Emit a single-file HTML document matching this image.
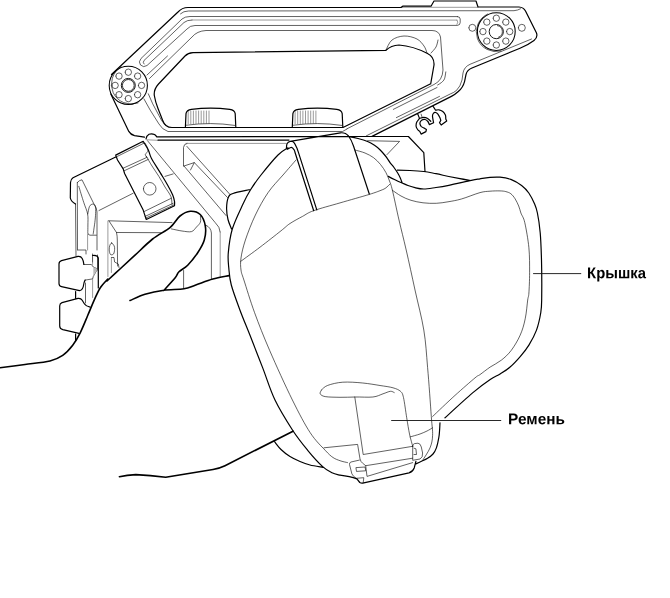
<!DOCTYPE html>
<html lang="ru"><head><meta charset="utf-8"><title>Крышка / Ремень</title>
<style>
html,body{margin:0;padding:0;background:#fff;overflow:hidden;}
svg{display:block;will-change:transform;}
.k{fill:none;stroke:#000;stroke-width:1.2;stroke-linecap:round;stroke-linejoin:round;}
.n{fill:none;stroke:#000;stroke-width:0.62;stroke-linecap:round;stroke-linejoin:round;}
.g{fill:none;stroke:#555;stroke-width:0.6;stroke-linecap:round;stroke-linejoin:round;}
.h{fill:none;stroke:#000;stroke-width:1.6;stroke-linecap:round;stroke-linejoin:round;}
.t{font-family:"Liberation Sans",sans-serif;font-weight:bold;font-size:15px;fill:#000;}
</style></head>
<body>
<svg width="670" height="598" viewBox="0 0 670 598">
<rect width="670" height="598" fill="#fff"/>
<g class="n">
<path d="M180.5,13.8 Q183.5,11 188.5,11 L514,10.7 Q518,10.3 520.5,8.8 M457.5,16.6 L190,16.5 Q185,16.5 182,19 L141,58.5 Q138,62 140.5,65 Q143.5,68 147,65.5 L187,29 Q190,25.5 195,25.5 L457.5,25.4 Q460.2,25 460.2,22.5 L460.2,19 Q460.2,16.8 457.5,16.6 M192,20 Q187,20 184,22.5 L144,60.5 Q142.5,62.5 144,64 M147,75 L167.5,56 M149.5,78.5 L192,37 Q197,31 206,30.5 L432,30.5 Q439,30.5 440.5,37 L443,70 Q442.5,80.5 434,84.5 L347,128.8 M143.9,98.8 L150.2,110.1 L158.9,123.9 Q162,129.5 168,131.5 L342.5,131.5 L347,129 M148.3,93.8 L152.7,103.8 L161.4,120.1 Q163,123 165.2,124.5 M386.0,50.0C387.0,48.3 389.0,42.3 392.0,40.0C395.0,37.7 399.8,36.2 404.0,36.0C408.2,35.8 413.7,37.3 417.0,39.0C420.3,40.7 422.3,43.7 424.0,46.0C425.7,48.3 426.5,51.8 427.0,53.0 M438.0,40.0C437.7,41.2 437.2,44.8 436.0,47.0C434.8,49.2 431.8,52.0 431.0,53.0 M445.8,71.9C445.6,73.1 445.2,77.0 444.5,78.8C443.8,80.6 442.6,81.5 441.5,82.5C440.4,83.5 438.2,84.6 437.6,85.0 M393.3,109.4 L437,87.5 M396.4,117.6 L439.5,96.4 M138.0,103.0 A19.950000000000003,19.950000000000003 0 0 1 121.2,67.0 M138.3,85.4 a3.2,3.2 0 1 0 6.4,0 a3.2,3.2 0 1 0 -6.4,0 M134.4,94.7 a3.2,3.2 0 1 0 6.4,0 a3.2,3.2 0 1 0 -6.4,0 M125.1,98.6 a3.2,3.2 0 1 0 6.4,0 a3.2,3.2 0 1 0 -6.4,0 M115.8,94.7 a3.2,3.2 0 1 0 6.4,0 a3.2,3.2 0 1 0 -6.4,0 M111.9,85.4 a3.2,3.2 0 1 0 6.4,0 a3.2,3.2 0 1 0 -6.4,0 M115.8,76.1 a3.2,3.2 0 1 0 6.4,0 a3.2,3.2 0 1 0 -6.4,0 M125.1,72.2 a3.2,3.2 0 1 0 6.4,0 a3.2,3.2 0 1 0 -6.4,0 M134.4,76.1 a3.2,3.2 0 1 0 6.4,0 a3.2,3.2 0 1 0 -6.4,0 M501.1,51.0 A19.75,19.75 0 0 1 487.7,14.0 M497.4,25.6 A6.1,6.1 0 0 1 498.4,37.3 M506.5,31.6 a3.2,3.2 0 1 0 6.4,0 a3.2,3.2 0 1 0 -6.4,0 M502.6,41.1 a3.2,3.2 0 1 0 6.4,0 a3.2,3.2 0 1 0 -6.4,0 M493.1,45.0 a3.2,3.2 0 1 0 6.4,0 a3.2,3.2 0 1 0 -6.4,0 M483.6,41.1 a3.2,3.2 0 1 0 6.4,0 a3.2,3.2 0 1 0 -6.4,0 M479.7,31.6 a3.2,3.2 0 1 0 6.4,0 a3.2,3.2 0 1 0 -6.4,0 M483.6,22.1 a3.2,3.2 0 1 0 6.4,0 a3.2,3.2 0 1 0 -6.4,0 M493.1,18.2 a3.2,3.2 0 1 0 6.4,0 a3.2,3.2 0 1 0 -6.4,0 M502.6,22.1 a3.2,3.2 0 1 0 6.4,0 a3.2,3.2 0 1 0 -6.4,0 M468.8,27.8 a3.5,3.5 0 1 0 7,0 a3.5,3.5 0 1 0 -7,0 M518.3,27.8 a3.5,3.5 0 1 0 7,0 a3.5,3.5 0 1 0 -7,0 M531.5,39 L470,64.3 Q464,67 463,73 L462,80 Q460.5,86.5 456.4,90.5 Q453.5,92.8 450.2,94 L366.4,135.8 M186.4,125.2 Q210.60000000000002,121.8 234.8,125.4 M293.3,125.2 Q317.55,121.8 341.8,125.4 M421.1,114.1 L422.1,117.1 M75.5,204 L76,256 M116.9,156.6 L143.9,143.2 M146.4,156.3C147.3,157.9 149.9,162.7 152.0,166.0C154.1,169.3 156.7,172.9 158.9,176.4C161.1,179.9 163.0,183.7 165.0,187.0C167.0,190.3 169.6,193.4 170.8,196.3C172.0,199.2 171.8,203.1 172.0,204.5 M145.1,143.2C145.5,144.0 147.1,146.6 147.6,148.0C148.1,149.4 148.2,150.4 147.8,151.5C147.4,152.6 145.4,153.4 145.3,154.4C145.2,155.4 146.7,157.1 147.0,157.6 M123.2,168.2 L146.4,157.6 M124.4,170.7 L148.3,159.4 M144.4,211.4 L171.4,198.2 M145.1,216.4 L173.3,203.2 M145.7,218.1 L173.9,204.9 M165,176.4 L173.2,173.9 M143.4,188.8 a6.3,6.3 0 1 0 12.6,0 a6.3,6.3 0 1 0 -12.6,0 M99,210.5 L133.2,193.2 M77.3,182.5 Q79.5,180 82,179.8 L93.9,203.9 Q97,208 97,212 L97,250 M77.3,182.5 L77.5,250 M78.8,186.3C79.6,189.0 82.3,198.0 83.8,202.6C85.3,207.2 86.9,210.2 87.6,213.9C88.3,217.6 87.9,221.9 87.9,225.0C87.9,228.1 87.8,231.4 87.8,232.7Q88,235 90,235.2 L96.4,235.2 M87.8,213.9C88.1,212.7 88.7,208.0 89.5,206.4C90.3,204.8 91.7,204.2 92.6,204.1C93.5,204.0 94.6,204.5 95.1,205.7C95.6,206.9 95.7,209.0 95.7,211.4C95.7,213.8 95.4,217.3 95.1,220.2C94.8,223.1 94.2,226.7 93.9,229.0C93.6,231.3 93.3,233.2 93.2,234.0 M78,250 L86,250 L86,254 M92.5,254 L92.5,262 M97.5,255 L97.5,270 M108.9,220.8 L172,222.6 M108.9,220.8 L116.5,232.5 Q117.3,236 117.3,240 L117.6,266 M116.5,232.5 L161.4,232.7 M111.7,243.0C112.4,243.1 113.7,244.9 114.2,246.0C114.7,247.1 114.7,248.2 114.6,249.5C114.5,250.8 114.2,253.2 113.5,254.0C112.8,254.8 111.2,255.2 110.5,254.5C109.8,253.8 109.3,251.5 109.2,250.0C109.1,248.5 109.4,246.7 109.8,245.5C110.2,244.3 111.0,242.9 111.7,243.0Z M111.4,257.5 L114,257.5 L114.6,262 L118.3,264 L119,267.5 M83.9,264.5 L91.4,264.5 L93.3,267 L97.6,268.9 L93.3,276.4 L92.6,278.9 L85.1,280.1 M85.5,283 L85.5,303 M183.5,166 L183.5,147.5 Q183.7,144 187,143.4 M186.9,146.4 L230,194.5 M184,166 L194.3,162.6 L227.5,197.5 M194.3,162.6 L190.5,170 M184,166 L226,215.5 M147.5,140.7 L215.2,222.6 Q220,227 220.2,232 M205.8,225.1 Q211,227.5 211.4,233 L211.4,279.5 M171.4,228.9C173.2,229.2 178.7,230.6 182.0,231.0C185.3,231.4 189.1,232.3 191.5,231.6C193.9,230.9 195.0,228.6 196.5,227.0C198.0,225.4 199.8,224.0 200.4,222.2C201.1,220.4 200.4,217.3 200.4,216.3 M183.6,270.5 L183.6,288.5 M296.0,160.0C293.8,162.5 287.7,169.6 283.0,175.0C278.3,180.4 272.6,186.0 268.0,192.7C263.4,199.4 259.2,207.1 255.4,215.0C251.6,222.9 247.8,232.8 245.4,240.0C243.0,247.2 241.7,253.0 241.0,258.0C240.3,263.0 240.5,266.3 241.0,270.0C241.5,273.7 241.6,272.9 243.9,280.0C246.2,287.1 250.3,301.0 254.6,312.7C258.9,324.4 263.3,335.8 269.6,350.3C275.9,364.9 285.6,386.3 292.4,400.0C299.2,413.7 304.7,424.3 310.2,432.7C315.7,441.1 321.4,446.2 325.2,450.3C329.0,454.4 330.5,455.8 333.0,457.5C335.5,459.2 337.6,459.8 340.0,460.7C342.4,461.6 346.2,462.3 347.5,462.6 M354.8,150.0C356.5,150.5 361.9,151.7 365.0,153.0C368.1,154.3 371.0,155.8 373.6,157.7C376.2,159.6 378.4,162.0 380.5,164.5C382.6,167.0 384.5,169.9 386.0,172.7C387.5,175.4 388.4,178.1 389.5,181.0C390.6,183.9 390.8,183.8 392.4,190.3C394.0,196.8 396.7,210.1 399.0,220.0C401.3,229.9 403.5,238.3 406.2,250.0C408.9,261.7 412.1,276.7 415.0,290.0C417.9,303.3 421.7,317.1 423.8,330.0C425.9,342.9 426.4,353.2 427.6,367.6C428.9,382.0 430.5,405.2 431.3,416.5C432.1,427.8 432.8,430.1 432.6,435.3C432.4,440.5 431.7,443.7 430.0,447.9C428.3,452.1 423.8,458.3 422.6,460.4 M392.4,190.3C393.8,191.2 397.9,194.3 401.0,196.0C404.1,197.7 407.3,199.2 411.0,200.3C414.7,201.4 418.8,202.3 423.0,202.8C427.2,203.3 432.1,203.5 436.3,203.3C440.5,203.1 443.8,202.5 448.0,201.8C452.2,201.1 456.1,200.5 461.4,199.0C466.7,197.5 475.2,193.9 480.0,192.6C484.8,191.3 486.7,191.5 490.0,191.2C493.3,190.9 497.4,190.8 500.0,190.9C502.6,191.0 504.0,191.1 505.8,191.6C507.6,192.1 509.2,192.5 510.8,193.7C512.4,194.9 513.8,196.8 515.1,198.8C516.4,200.9 517.7,203.6 518.7,206.0C519.7,208.4 519.9,210.2 520.9,213.0C521.9,215.8 523.5,216.9 524.8,222.7C526.1,228.5 528.1,239.5 528.9,247.8C529.7,256.2 529.6,265.3 529.6,272.8C529.6,280.3 529.2,288.5 528.9,293.0C528.6,297.5 528.3,295.7 527.7,300.0C527.1,304.3 526.5,312.9 525.2,318.8C524.0,324.7 522.5,329.9 520.2,335.1C517.9,340.3 514.5,346.0 511.4,350.2C508.2,354.4 504.9,357.4 501.3,360.2C497.8,363.0 493.7,364.7 490.1,367.1C486.6,369.5 482.5,372.8 480.0,374.6C477.5,376.4 479.2,374.4 475.0,377.9C470.8,381.4 462.1,389.0 455.0,395.4C447.9,401.8 436.3,413.0 432.6,416.5 M410.2,436.9C411.8,436.4 417.2,435.0 420.0,434.0C422.8,433.0 424.9,432.0 427.0,431.0C429.1,430.0 431.7,428.3 432.6,427.8 M367.6,140.7 L399.6,141.4 L387,154.6 M240.7,261.4C243.9,259.0 253.3,252.3 260.0,247.2C266.7,242.1 276.0,234.8 281.0,230.8C286.0,226.9 286.4,225.9 290.0,223.5C293.6,221.1 298.6,218.5 302.5,216.4C306.4,214.3 307.4,212.9 313.6,210.7C319.9,208.4 330.8,205.6 340.0,202.9C349.2,200.2 362.2,196.6 369.0,194.5C375.8,192.4 378.2,191.4 381.0,190.3C383.8,189.2 384.5,188.9 386.0,187.8C387.5,186.8 389.3,184.6 390.0,184.0 M321.5,390.0C322.5,389.2 324.1,386.7 327.7,385.4C331.2,384.1 336.9,382.6 342.8,382.2C348.7,381.8 356.6,382.4 362.8,383.0C369.0,383.6 375.0,384.7 380.0,385.5C385.0,386.3 389.6,386.8 393.0,387.8C396.4,388.8 398.8,389.7 400.5,391.3C402.2,392.9 402.5,393.2 403.5,397.6C404.5,402.0 405.7,411.6 406.7,417.7C407.7,423.8 408.5,429.2 409.5,434.0C410.5,438.8 412.2,444.2 412.7,446.3 M321.5,390.0C321.3,390.6 319.6,392.7 320.2,393.8C320.8,394.9 321.9,396.0 325.2,396.6C328.5,397.2 335.0,397.2 340.0,397.3C345.0,397.4 349.8,397.1 355.3,397.0C360.8,396.9 368.3,397.5 372.9,397.0C377.5,396.5 380.1,394.8 383.0,393.8C385.9,392.9 388.5,391.5 390.4,391.3C392.3,391.1 393.6,392.4 394.2,392.6 M354.8,397 L363.2,454.5 L412.7,446.3 M324,447.8 L357.6,444.4 L360,458.9 Q360.8,462 362.6,463.2 L365.7,465.7 L412.7,458.2 M365.7,465.7 L367,476.4 L412.7,462.6 M412.7,446.3 Q412.6,444 414.5,443.6 L418,443.2 Q420.5,443.5 421.3,447 L422.6,453 Q423,457.5 420,459 L412.7,460.3 L412.7,446.3 M414,448.2 L415.9,448.8 L416.5,454.5 L414,454.5 M359.4,460.1 L351,462 Q349.2,462.5 349.5,464.5 L351.9,473.9 Q353,476.5 356.9,478.9 M356.3,467.6 L365.1,467 L365.7,470.8 L356.9,471.4 Z M356.3,478.3 L363.8,477.7 L363.2,482.7"/>
</g>
<g class="g">
<path d="M401,7.3 L478,7.3 M457,20.1 Q458.8,22 457,24.5 M457,20.1 L192,20 M188.2,111.0 L188.2,123.6 M190.8,111.0 L190.8,123.6 M193.4,111.0 L193.4,123.6 M196.0,111.0 L196.0,123.6 M198.6,111.0 L198.6,123.6 M201.2,111.0 L201.2,123.6 M203.8,111.0 L203.8,123.6 M206.4,111.0 L206.4,123.6 M209.0,111.0 L209.0,123.6 M295.1,111.0 L295.1,123.6 M297.7,111.0 L297.7,123.6 M300.3,111.0 L300.3,123.6 M302.9,111.0 L302.9,123.6 M305.5,111.0 L305.5,123.6 M308.1,111.0 L308.1,123.6 M310.7,111.0 L310.7,123.6 M313.3,111.0 L313.3,123.6 M315.9,111.0 L315.9,123.6 M147,139.8 L158,140.3 M186,143.4 L286,143.4 M87.6,234 L87.6,250 M107.9,221 L107.9,276.5 M111.4,257.5 L111.4,272.5 M92.6,256 L92.6,264.5 M92.6,279.5 L92.6,297.5 M220.2,232 L220.2,277.5"/>
</g>
<g class="k">
<path d="M111.5,74.5 L178,12 Q182,7.5 188,7.5 L401,7.5 L402.7,6.2 L431,6.2 L434,1 L476,1 L478,7 M478,7 L519,7 Q523.5,7.3 525.5,11 L536.5,33 Q538,37.5 534,40.5 Q528,45 520,48.3 L472,68 Q467,70 466,74.5 L464.6,81.3 Q463,87.5 458.3,91.5 Q455,94.5 451.4,96.4 L372,136.4 M110.8,94 L128.8,131.4 Q130.5,134.6 134.5,135.6 L144.5,137.2 M146,139 Q146.5,135.5 149,134.2 Q152,133.2 154.5,134.6 Q156,135.5 156.6,136.8 L349,136.5 M193,52.7 Q188,53 185,56 L158.5,84 Q153.6,89.5 154.3,95.5 Q155.3,101.5 158,108.5 L162.5,120 Q165,127.5 172,127.5 L343,127.5 L430.7,83.8 M193,52.7 L386,50.3 Q391,45.5 399,45 Q413,46 427.5,53.5 Q434.5,57 434,65 L430.7,83.8 M185.4,127 L186.0,113.6 Q186.6,110.19999999999999 191.4,109.39999999999999 Q210.60000000000002,106.8 229.8,109.39999999999999 Q234.60000000000002,110.19999999999999 235.20000000000002,113.6 L235.8,127 M292.3,127 L292.90000000000003,113.6 Q293.5,110.19999999999999 298.3,109.39999999999999 Q317.55,106.8 336.8,109.39999999999999 Q341.6,110.19999999999999 342.2,113.6 L342.8,127 M417.8,114.1 L419.5,118.4 M419.5,118.4C419.1,119.0 417.4,120.7 416.8,122.0C416.2,123.3 416.0,125.0 416.1,126.3C416.2,127.5 417.0,128.6 417.6,129.5C418.2,130.4 419.4,131.2 419.8,131.5 M419.8,131.5 L421.1,134.1 L425.9,131.6 L426.4,129.6 L424.4,128.2 M424.4,128.2C423.8,127.9 421.9,127.2 421.1,126.3C420.4,125.4 419.8,124.0 419.9,123.0C420.0,122.0 420.7,120.8 421.6,120.2C422.5,119.6 424.1,119.3 425.1,119.5C426.2,119.7 427.2,120.7 427.9,121.5C428.6,122.3 429.1,124.1 429.3,124.6 M429.3,124.6 L433.6,122.7 M419.5,118.4C420.2,118.2 422.4,117.4 423.8,117.4C425.2,117.4 426.5,117.9 427.7,118.6C428.9,119.2 430.3,120.8 430.8,121.3 M433.6,122.7C433.4,121.7 432.6,117.9 432.5,116.4C432.4,114.9 432.8,114.2 433.3,113.5C433.8,112.8 434.8,112.4 435.6,112.5C436.4,112.6 437.1,113.1 437.9,114.1C438.7,115.1 439.7,117.4 440.2,118.4C440.7,119.5 440.7,120.1 440.8,120.4 M440.8,120.4 L439.5,122.7 L441.2,125 L446.7,121 L445.8,119 M445.8,119.0C445.7,118.3 445.9,116.3 445.4,115.1C444.9,113.8 443.9,112.4 442.8,111.5C441.7,110.6 440.1,110.0 438.9,109.8C437.7,109.6 436.2,110.1 435.6,110.2 M435.6,110.2 L433.3,106.6 M115.7,157 L73,177.8 Q70.5,179.5 70.5,182.5 L70.3,198 Q71,201.5 75.5,204 M158,140.1 L289,140.1 M115.7,155.1 L143.2,141.3 M143.2,141.3C144.0,142.8 146.9,147.2 148.3,150.0C149.7,152.8 149.4,154.4 151.4,158.2C153.4,162.0 157.5,168.1 160.2,172.6C162.9,177.1 165.6,181.4 167.7,185.2C169.8,188.9 171.6,192.4 172.7,195.1C173.8,197.8 174.2,199.5 174.5,201.3C174.8,203.1 174.5,205.0 174.5,205.7 M115.7,155.1 L117.5,160 L123.2,168.9 L124.6,173.5 L143.2,210.1 L144.4,213.9 L146.3,219.5 L174.5,205.7 M59,264 Q59,261.5 61.5,260.6 L78,256.4 Q80.8,256 82.2,258.5 Q83.6,261 83.9,264.5 M85.1,280.1 Q84,282 83.6,285 Q83,290 79.5,290.7 L61.5,286.6 Q59,286 59,283.5 L59,264 M59.7,326 L59.7,306 Q59.7,303.5 62,302.6 L78,298.4 Q80.8,298 82.2,300.3 L84.5,304 Q86,306.3 90.1,307.1 M59.7,326 Q59.7,328.8 62.8,329.7 L79,333.3 M75.6,291.5 L75.6,298 M92.6,255.5 Q97.5,255 98.3,258 L98.3,288 M75.6,334 L75.6,341 M250.5,189.5C247.6,190.2 236.7,192.2 233.0,193.5C229.3,194.8 229.4,195.1 228.3,197.5C227.2,199.9 226.7,204.3 226.6,208.0C226.5,211.7 227.2,216.0 228.0,219.5C228.8,223.0 231.0,227.4 231.6,229.0 M274.5,441.7C275.6,443.0 278.4,447.0 281.0,449.5C283.6,452.0 286.8,454.5 290.0,456.5C293.2,458.5 296.7,460.1 300.0,461.5C303.3,462.9 306.2,464.0 310.0,465.0C313.8,466.0 320.8,466.9 323.0,467.3 M288.0,147.8C286.3,149.0 282.5,150.5 278.0,155.0C273.5,159.5 265.6,169.2 261.0,175.0C256.4,180.8 253.4,185.2 250.4,190.0C247.4,194.8 246.0,197.5 243.0,204.0C240.0,210.5 234.8,220.9 232.3,229.0C229.9,237.1 228.9,246.2 228.3,252.7C227.7,259.2 228.3,262.6 228.8,268.0C229.3,273.4 229.4,278.0 231.3,285.0C233.2,292.0 236.9,301.8 240.0,310.2C243.1,318.6 246.2,325.7 250.0,335.3C253.8,344.9 258.5,357.1 262.7,367.9C266.9,378.7 270.0,389.6 275.0,400.0C280.0,410.4 287.2,421.8 292.6,430.2C298.1,438.6 302.7,444.2 307.7,450.3C312.7,456.4 318.6,462.9 322.7,466.6C326.8,470.4 329.1,471.4 332.0,472.8C334.9,474.2 338.7,474.8 340.0,475.2 M348.8,136.5C350.3,136.8 354.9,137.7 358.0,138.5C361.1,139.3 364.9,140.4 367.6,141.5C370.4,142.6 372.4,143.9 374.5,145.3C376.6,146.7 378.4,148.2 380.2,150.0C382.0,151.8 383.8,153.9 385.5,156.0C387.2,158.1 388.8,160.9 390.2,162.8C391.6,164.7 392.8,165.8 394.0,167.5C395.2,169.2 396.6,171.2 397.7,173.0C398.8,174.8 399.6,176.4 400.3,178.0C401.0,179.6 401.8,181.9 402.1,182.7 M388.3,176.4C389.4,177.0 392.8,178.8 395.0,179.8C397.2,180.9 399.3,181.8 401.5,182.7C403.7,183.6 405.8,184.7 408.0,185.5C410.2,186.3 412.4,187.1 415.0,187.7C417.6,188.3 420.3,189.0 423.8,189.0C427.3,189.0 431.8,188.1 436.0,187.5C440.2,186.9 442.9,186.5 448.8,185.3C454.7,184.1 466.2,181.4 471.4,180.3C476.6,179.2 476.9,179.3 480.0,178.8C483.1,178.3 486.7,177.7 490.0,177.4C493.3,177.1 496.5,176.9 500.0,177.2C503.5,177.5 507.2,178.0 510.8,179.4C514.4,180.8 518.6,183.2 521.6,185.5C524.6,187.8 526.6,189.9 528.8,193.0C530.9,196.1 533.1,200.5 534.5,203.8C535.9,207.1 536.4,208.2 537.4,213.0C538.4,217.8 539.5,224.8 540.2,232.7C540.9,240.6 541.2,249.5 541.5,260.3C541.8,271.1 541.8,288.9 541.7,297.6C541.6,306.3 541.7,307.1 540.8,312.5C539.9,317.9 538.5,324.7 536.5,330.1C534.5,335.5 531.6,340.7 528.9,345.1C526.2,349.5 523.3,353.0 520.2,356.6C517.1,360.2 513.5,364.1 510.1,367.0C506.8,369.9 503.4,371.9 500.1,374.0C496.8,376.1 494.8,376.4 490.2,379.5C485.6,382.6 480.1,386.5 472.6,392.9C465.1,399.3 449.6,413.6 445.0,417.8 M397.4,170.2C399.5,170.2 405.6,170.3 410.0,170.5C414.4,170.7 419.5,171.0 423.8,171.5C428.1,172.0 431.8,172.9 436.0,173.7C440.2,174.5 444.8,175.7 448.8,176.5C452.8,177.3 456.4,178.0 460.0,178.7C463.6,179.4 468.5,180.2 470.2,180.5 M440.0,422.8C439.9,424.0 439.8,427.6 439.6,430.0C439.4,432.4 439.4,434.0 438.9,437.0C438.4,440.0 437.4,445.1 436.4,447.9C435.4,450.7 434.5,452.3 433.0,454.0C431.5,455.7 429.5,457.0 427.6,458.2C425.7,459.4 423.4,460.4 421.5,461.3C419.6,462.2 416.8,463.5 415.9,463.9 M348.5,136.5 L408.4,136.5 L423.8,152.7 L425,171.5 M286.4,149.0C286.5,148.1 286.4,145.1 287.0,143.8C287.6,142.5 289.0,141.5 290.2,141.3C291.4,141.1 292.9,141.4 294.0,142.6C295.1,143.8 296.5,147.3 297.0,148.2 M297,148.2 L298.5,152.6 L316.8,209.9 M287.5,149.3C288.1,149.0 290.3,147.2 291.4,147.3C292.5,147.4 293.6,149.1 294.2,150.0C294.8,150.9 295.0,152.5 295.2,153.0L313.7,210.7 M290.2,141.3 L340.4,132.8 Q345.5,132.3 348.5,136 Q351.5,140 353.5,146 L369.3,194 M340,475.2 Q350,476.3 356.9,478.9 L359.8,482.5 Q361.5,483.7 363.8,482.9 L409,472.9 Q413,471.5 414.2,468 L415.9,461.4"/>
</g>
<g class="h">
<path d="M107.0,281.0C109.2,279.0 115.3,273.3 120.0,269.0C124.7,264.7 129.6,260.2 135.0,255.2C140.4,250.2 146.8,243.6 152.6,239.0C158.4,234.4 165.4,231.4 170.0,227.6C174.6,223.8 176.6,218.7 180.0,216.0C183.4,213.3 186.8,211.6 190.2,211.3C193.6,211.1 197.7,212.1 200.2,214.5C202.7,216.9 204.6,221.8 205.3,226.0C206.0,230.2 205.6,235.6 204.3,240.0C203.0,244.4 200.5,248.5 197.7,252.7C194.9,256.9 190.8,262.0 187.7,265.2C184.6,268.4 181.1,269.7 179.0,271.8C176.9,273.9 177.7,274.7 175.2,277.8C172.7,280.9 165.8,288.2 163.9,290.3 M130.0,300.5C132.5,299.5 139.3,296.0 145.0,294.3C150.7,292.6 157.4,291.2 163.9,290.3C170.4,289.4 178.8,289.7 184.0,288.8C189.2,287.9 190.4,286.8 195.2,285.2C200.0,283.6 207.2,280.7 212.8,279.1C218.4,277.5 226.3,276.2 229.0,275.6 M0.0,367.8C4.2,367.2 16.7,365.6 25.0,364.5C33.3,363.4 43.7,362.5 50.0,361.0C56.3,359.5 58.9,358.0 62.7,355.4C66.5,352.8 69.8,349.1 72.7,345.3C75.6,341.5 77.7,337.8 80.2,332.8C82.7,327.8 85.3,321.2 87.8,315.3C90.3,309.4 93.2,302.3 95.3,297.7C97.4,293.1 98.2,290.8 100.3,287.7C102.4,284.6 106.5,280.4 107.8,279.0 M119.4,476.7 Q127,475 135.8,474.6 Q150,475.3 165.7,477.3 L213,469.5 Q219.4,468.4 225,465.7 L293,431.2"/>
</g>
<circle cx="128.3" cy="85.4" r="19.1" fill="none" stroke="#000" stroke-width="1.05"/>
<circle cx="128.3" cy="85.4" r="7.0" fill="none" stroke="#000" stroke-width="0.9"/>
<circle cx="128.3" cy="85.4" r="5.9" fill="none" stroke="#000" stroke-width="0.8"/>
<circle cx="496.3" cy="31.6" r="18.9" fill="none" stroke="#000" stroke-width="1.05"/>
<circle cx="496.3" cy="31.6" r="7.1" fill="none" stroke="#000" stroke-width="0.9"/>
<path d="M93.3,267 L97.6,268.9 L93.3,276.4 Z" fill="#bbb" stroke="none"/>
<path d="M533.1,273.6H581.2M391.2,420.5H501.2" stroke="#111" stroke-width="0.9" fill="none"/>
<text transform="translate(587.1,278.3) rotate(0.05) scale(0.99,1.04)" class="t">Крышка</text>
<text transform="translate(508.1,424.3) rotate(0.05) scale(1.023,1.04)" class="t">Ремень</text>
</svg>
</body></html>
